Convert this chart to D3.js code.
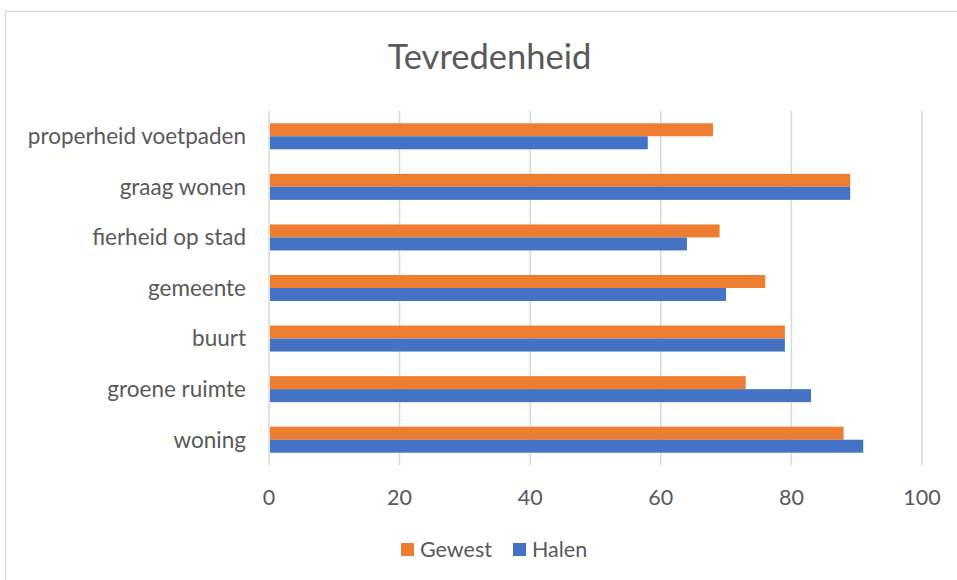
<!DOCTYPE html>
<html><head><meta charset="utf-8">
<script src="https://cdn.jsdelivr.net/npm/d3@7"></script>
<style>
html,body{margin:0;padding:0;background:#fff;}
svg text{font-family:Lato,"Open Sans",sans-serif;fill:#595959;}
</style></head>
<body>
<svg id="chart" width="957" height="580"></svg>
<script>
const categories = ["properheid voetpaden","graag wonen","fierheid op stad","gemeente","buurt","groene ruimte","woning"];
const gewest = [68,89,69,76,79,73,88];
const halen  = [58,89,64,70,79,83,91];
const seriesNames = ["Gewest","Halen"];
const seriesColors = ["#ED7D31","#4472C4"];
const xTicks = [0,20,40,60,80,100];
const chartTitle = "Tevredenheid";

(function(){
const svg = d3.select("#chart");
// frame
svg.append("rect").attr("x",5.5).attr("y",11.5).attr("width",1000).attr("height",1000)
  .attr("fill","#fff").attr("stroke","#d9d9d9").attr("stroke-width",1.2);

const pLeft=269, pRight=922, pTop=111, pBottom=465;
const x = d3.scaleLinear().domain([0,100]).range([pLeft,pRight]);
const y = d3.scaleBand().domain(categories).range([pTop,pBottom]).paddingInner(0).paddingOuter(0);
const barH = 13;

// gridlines
svg.append("g").selectAll("line").data(xTicks).join("line")
  .attr("x1",d=>x(d)).attr("x2",d=>x(d)).attr("y1",pTop).attr("y2",pBottom)
  .attr("stroke","#d9d9d9").attr("stroke-width",1.5);

const data = [gewest, halen];
data.forEach((vals,si)=>{
  svg.append("g").selectAll("rect").data(categories).join("rect")
    .attr("x",x(0)+1)
    .attr("y",(c)=>y(c)+y.bandwidth()/2 - barH + si*barH)
    .attr("width",(c,i)=>x(vals[i])-x(0)-1)
    .attr("height",barH)
    .attr("fill",seriesColors[si]);
});

// category labels
svg.append("g").selectAll("text").data(categories).join("text")
  .attr("x",246).attr("y",c=>y(c)+y.bandwidth()/2)
  .attr("dy","0.35em").attr("text-anchor","end")
  .style("font-size","22.5px").text(d=>d);

// x tick labels
svg.append("g").selectAll("text").data(xTicks).join("text")
  .attr("x",d=>x(d)).attr("y",497).attr("dy","0.35em")
  .attr("text-anchor","middle").style("font-size","21.5px").text(d=>d);

// title
svg.append("text").attr("x",489.5).attr("y",57).attr("dy","0.35em")
  .attr("text-anchor","middle").style("font-size","34.5px").text(chartTitle);

// legend
const legX = [401, 513];
seriesNames.forEach((n,i)=>{
  svg.append("rect").attr("x",legX[i]).attr("y",543).attr("width",13).attr("height",13).attr("fill",seriesColors[i]);
  svg.append("text").attr("x",legX[i]+19).attr("y",549.5).attr("dy","0.35em")
    .style("font-size","21.5px").text(n);
});
})();
</script>
</body></html>
